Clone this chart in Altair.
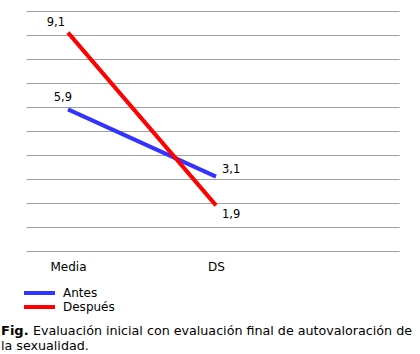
import altair as alt
import pandas as pd

categories = ["Media", "DS"]
series = ["Antes", "Después"]
antes = [5.9, 3.1]
despues = [9.1, 1.9]
colors = ["#3333ff", "#ff0000"]
caption_bold = "Fig."
caption_line1 = "Evaluación inicial con evaluación final de autovaloración de"
caption_line2 = "la sexualidad."

rows = []
for s, vals in zip(series, [antes, despues]):
    for c, v in zip(categories, vals):
        rows.append({"cat": c, "serie": s, "valor": v, "label": f"{v:.1f}".replace(".", ",")})
df = pd.DataFrame(rows)
leg = pd.DataFrame({"serie": series})

FONT = "DejaVu Sans"
W, H = 373, 240

# point scale across full width, first point at 42 px, step 148 px
step = 148.0
pad = (W - step) / (2 * step)
align = 42.0 / (W - step)
xscale = alt.Scale(type="point", domain=categories, range=[0, W], padding=pad, align=align)
yscale = alt.Scale(domain=[0, 10], nice=False)
cscale = alt.Scale(domain=series, range=colors)

base = alt.Chart(df).encode(
    x=alt.X("cat:N", scale=xscale, sort=categories,
            axis=alt.Axis(title=None, domain=False, ticks=False, tickSize=0, labelAngle=0,
                          labelPadding=10, labelFont=FONT, labelFontSize=12, labelColor="#000000",
                          grid=False)),
    y=alt.Y("valor:Q", scale=yscale,
            axis=alt.Axis(title=None, domain=False, ticks=False, labels=False,
                          grid=True, gridColor="#a0a0a0", gridWidth=1,
                          values=[0, 1, 2, 3, 4, 5, 6, 7, 8, 9, 10])),
)

lines = base.mark_line(strokeWidth=4).encode(
    color=alt.Color("serie:N", scale=cscale, legend=None),
    detail="serie:N",
)

def lab(cat, serie, align, dx, dy):
    return base.transform_filter(
        (alt.datum.cat == cat) & (alt.datum.serie == serie)
    ).mark_text(align=align, baseline="middle", dx=dx, dy=dy, font=FONT,
                fontSize=11.5, color="#000000").encode(text="label:N")

labels = [
    lab("Media", "Después", "right", -3, -10),
    lab("Media", "Antes", "right", 4, -11),
    lab("DS", "Antes", "left", 6, -7),
    lab("DS", "Después", "left", 6, 10),
]

legy = alt.Y("serie:N", scale=alt.Scale(type="point", domain=series, range=[282, 296], padding=0),
             axis=None)
leg_rule = alt.Chart(leg).mark_rule(strokeWidth=4).encode(
    x=alt.value(-2), x2=alt.value(29), y=legy,
    color=alt.Color("serie:N", scale=cscale, legend=None),
)
leg_text = alt.Chart(leg).mark_text(align="left", baseline="alphabetic", dy=4, font=FONT,
                                    fontSize=12, color="#000000").encode(
    x=alt.value(37), y=legy, text="serie:N",
)

cap = pd.DataFrame({"t": [caption_bold]})
cap_b = alt.Chart(cap).mark_text(align="left", baseline="alphabetic", font=FONT, fontSize=13,
                                 fontWeight="bold", color="#000000").encode(
    x=alt.value(-25), y=alt.value(324), text=alt.value(caption_bold))
cap_1 = alt.Chart(cap).mark_text(align="left", baseline="alphabetic", font=FONT, fontSize=12.7,
                                 color="#000000").encode(
    x=alt.value(7), y=alt.value(324), text=alt.value(caption_line1))
cap_2 = alt.Chart(cap).mark_text(align="left", baseline="alphabetic", font=FONT, fontSize=12.7,
                                 color="#000000").encode(
    x=alt.value(-25), y=alt.value(339), text=alt.value(caption_line2))

main = alt.layer(lines, *labels)
legend = alt.layer(leg_rule, leg_text)

chart = alt.layer(main, legend, cap_b, cap_1, cap_2).resolve_scale(y="independent").properties(
    width=W, height=H,
    autosize=alt.AutoSizeParams(type="none"),
    padding={"left": 26, "top": 11, "right": 21, "bottom": 103},
    background="#ffffff",
).configure_view(stroke=None)

chart.save("out.html", embed_options={"renderer": "svg", "actions": False})
